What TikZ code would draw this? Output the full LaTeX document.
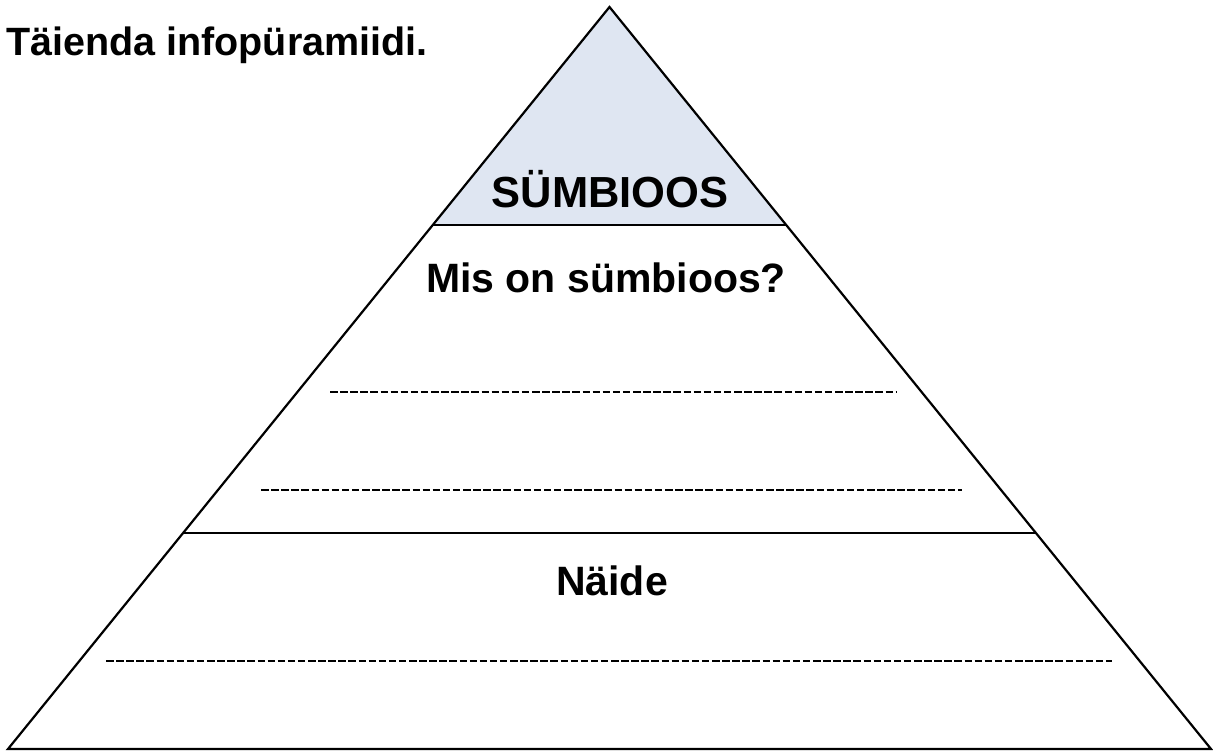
\documentclass[tikz,border=0pt]{standalone}
\usepackage{fontspec}
\setmainfont{Liberation Sans}
\usetikzlibrary{calc}
\definecolor{topfill}{RGB}{223,230,242}
\tikzset{
  edge/.style={draw=black, line width=2.2pt, line join=miter},
  band/.style={draw=black, line width=2.2pt},
  writeline/.style={draw=black, line width=2pt, dash pattern=on 7.5pt off 2.6pt},
  lbl/.style={font=\bfseries\fontsize{41}{48}\selectfont, inner sep=0pt, anchor=base}
}
\begin{document}
\begin{tikzpicture}[x=1pt,y=-1pt]
\useasboundingbox (0,0) rectangle (1213,751);
\coordinate (apex) at (609.5,7);
\coordinate (bl) at (8,749);
\coordinate (br) at (1211,749);
\coordinate (t1l) at ($(bl)!{(749-225)/742}!(apex)$);
\coordinate (t1r) at ($(br)!{(749-225)/742}!(apex)$);
\coordinate (t2l) at ($(bl)!{(749-533)/742}!(apex)$);
\coordinate (t2r) at ($(br)!{(749-533)/742}!(apex)$);
\fill[topfill] (apex) -- (t1r) -- (t1l) -- cycle;
\draw[edge] (bl) -- (apex) -- (br) -- cycle;
\draw[band] (t1l) -- (t1r);
\draw[band] (t2l) -- (t2r);
\coordinate (d1a) at (330,392); \coordinate (d1b) at (897,392);
\coordinate (d2a) at (261,490); \coordinate (d2b) at (962,490);
\coordinate (d3a) at (106,661); \coordinate (d3b) at (1112,661);
\draw[writeline] (d1a) -- (d1b);
\draw[writeline] (d2a) -- (d2b);
\draw[writeline] (d3a) -- (d3b);
\node[lbl, font=\bfseries\fontsize{39.5}{46}\selectfont] (title) at (6,56) [anchor=base west] {Täienda infopüramiidi.};
\node[lbl, font=\bfseries\fontsize{43.5}{50}\selectfont] (sym) at (610,208) {SÜMBIOOS};
\node[lbl] (mis) at (606,293) {Mis on sümbioos?};
\node[lbl] (naide) at (612,595) {Näide};
\end{tikzpicture}
\end{document}
